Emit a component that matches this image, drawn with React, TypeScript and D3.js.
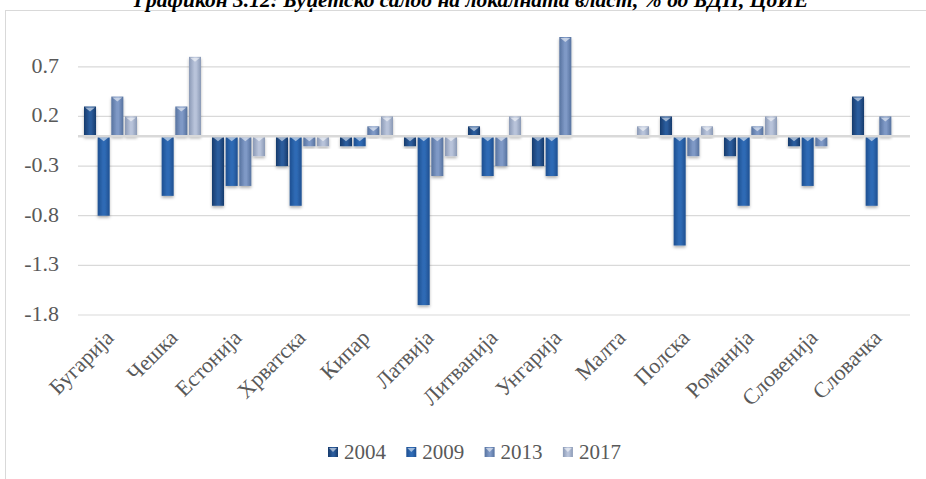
import React from 'react';
import * as d3 from 'd3';

const categories = ['Бугарија', 'Чешка', 'Естонија', 'Хрватска', 'Кипар', 'Латвија', 'Литванија', 'Унгарија', 'Малта', 'Полска', 'Романија', 'Словенија', 'Словачка'];
const years = ['2004', '2009', '2013', '2017'];
const v2004 = [0.3, 0, -0.7, -0.3, -0.1, -0.1, 0.1, -0.3, 0, 0.2, -0.2, -0.1, 0.4];
const v2009 = [-0.8, -0.6, -0.5, -0.7, -0.1, -1.7, -0.4, -0.4, 0, -1.1, -0.7, -0.5, -0.7];
const v2013 = [0.4, 0.3, -0.5, -0.1, 0.1, -0.4, -0.3, 1.0, 0, -0.2, 0.1, -0.1, 0.2];
const v2017 = [0.2, 0.8, -0.2, -0.1, 0.2, -0.2, 0.2, 0, 0.1, 0.1, 0.2, 0, 0];
const yTicks = [0.7, 0.2, -0.3, -0.8, -1.3, -1.8];

const seriesValues = [v2004, v2009, v2013, v2017];
// edge / centre colours for the bevelled bars
const palette = [
  { edge: '#173b6c', mid: '#2b5c9c' },
  { edge: '#1e4f91', mid: '#2f6bb5' },
  { edge: '#56729f', mid: '#7f99c6' },
  { edge: '#8a99b5', mid: '#b8c3da' },
];

const W = 926;
const H = 479;
const left = 78;
const right = 910;
const top = 37;
const bottom = 315;
const font = '"Liberation Serif", "Times New Roman", serif';
const textColor = '#595959';

export default function App() {
  const x = d3.scaleBand().domain(categories).range([left, right]);
  const xi = d3.scaleBand().domain(years).range([6, x.bandwidth() - 5]).paddingInner(0.12);
  const y = d3.scaleLinear().domain([-1.8, 1.0]).range([bottom, top]);
  const y0 = y(0);

  return (
    <svg width={W} height={H} style={{ position: 'absolute', left: 0, top: 0, background: '#fff' }}>
      <defs>
        {palette.map((p, i) => (
          <linearGradient key={i} id={`g${i}`} x1="0" x2="1" y1="0" y2="0">
            <stop offset="0" stopColor={p.edge} />
            <stop offset="0.45" stopColor={p.mid} />
            <stop offset="0.6" stopColor={p.mid} />
            <stop offset="1" stopColor={p.edge} />
          </linearGradient>
        ))}
        <filter id="sh" x="-50%" y="-20%" width="200%" height="140%">
          <feDropShadow dx="0" dy="2" stdDeviation="1.5" floodColor="#000" floodOpacity="0.3" />
        </filter>
        <clipPath id="plot">
          <rect x={left} y={top} width={right - left} height={bottom - top + 10} />
        </clipPath>
      </defs>

      <rect x={5.5} y={10.5} width={940} height={500} fill="none" stroke="#d9d9d9" />

      {/* title sits mostly above the page, as in the source scan */}
      <text x={471} y={7} textAnchor="middle" fontFamily={font} fontSize={21.5} fontWeight="bold" fontStyle="italic" fill="#000">
        Графикон 3.12: Буџетско салдо на локалната власт, % од БДП, ЦоИЕ
      </text>

      {yTicks.map(t => (
        <g key={t}>
          <line x1={left} x2={right} y1={y(t)} y2={y(t)} stroke="#d9d9d9" strokeWidth={1.2} />
          <text x={59} y={y(t) + 6} textAnchor="end" fontFamily={font} fontSize={22} fill={textColor}>
            {t.toFixed(1)}
          </text>
        </g>
      ))}

      <g clipPath="url(#plot)">
        {seriesValues.map((vals, si) =>
          vals.map((v, ci) => {
            if (v === 0) return null;
            const bx = (x(categories[ci]) ?? 0) + (xi(years[si]) ?? 0);
            const bw = xi.bandwidth();
            const yt = Math.min(y(v), y0);
            const h = Math.abs(y(v) - y0);
            return (
              <g key={`${si}-${ci}`}>
                <rect x={bx} y={yt} width={bw} height={h} fill={`url(#g${si})`} filter="url(#sh)" />
                <path
                  d={`M${bx + 1},${yt + 1} L${bx + bw - 1},${yt + 1} L${bx + bw / 2},${yt + Math.min(5, h - 1)} Z`}
                  fill="#ffffff"
                  opacity={0.55}
                />
              </g>
            );
          })
        )}
      </g>

      <line x1={left} x2={right} y1={y0} y2={y0} stroke="#d9d9d9" strokeWidth={2.5} />

      {categories.map(c => {
        const cx = (x(c) ?? 0) + x.bandwidth() / 2 + 5;
        return (
          <text key={c} transform={`translate(${cx},${339}) rotate(-45)`} textAnchor="end" fontFamily={font} fontSize={22} fill={textColor}>
            {c}
          </text>
        );
      })}

      {years.map((yr, i) => {
        const lx = 328 + i * 78.3;
        return (
          <g key={yr}>
            <rect x={lx} y={447} width={10} height={10} fill={`url(#g${i})`} />
            <path d={`M${lx + 1},${448} L${lx + 9},${448} L${lx + 5},${452} Z`} fill="#fff" opacity={0.55} />
            <text x={lx + 16} y={459} fontFamily={font} fontSize={21} fill={textColor}>
              {yr}
            </text>
          </g>
        );
      })}
    </svg>
  );
}
